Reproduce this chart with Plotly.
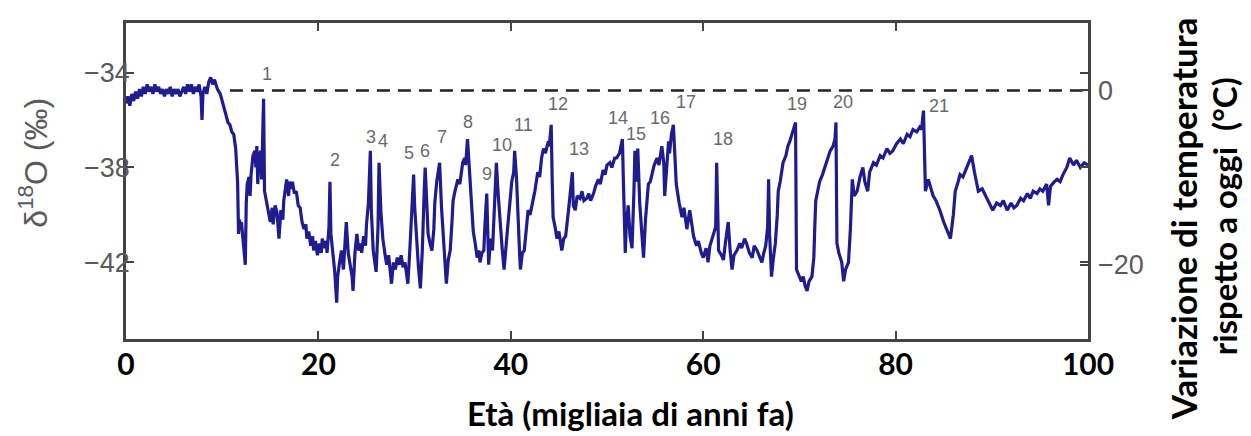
import plotly.graph_objects as go

# ---------------- data ----------------
age_ka = [
 0.0,0.2,0.4,0.6,0.8,1.0,1.2,1.4,1.6,1.8,2.0,2.2,2.4,2.6,2.8,3.0,3.2,3.4,3.6,3.8,
 4.0,4.2,4.4,4.6,4.8,5.0,5.2,5.4,5.6,5.8,6.0,6.2,6.4,6.6,6.8,7.0,7.2,7.4,7.6,7.8,
 7.9,8.0,8.2,8.4,8.6,8.8,9.0,9.2,9.5,9.8,
 10.1,10.4,10.6,10.8,11.0,11.2,11.4,11.5,11.6,11.7,11.8,11.9,12.0,12.2,12.4,12.5,12.6,12.8,12.9,13.0,
 13.2,13.4,13.5,13.6,13.7,13.8,14.0,14.1,14.2,14.3,14.4,14.6,14.8,15.0,15.2,15.3,15.5,15.7,15.9,16.1,
 16.3,16.4,16.6,16.7,16.9,17.0,17.2,17.3,17.5,17.7,17.9,18.1,18.3,18.5,18.7,18.8,19.0,19.2,19.4,19.5,
 19.7,19.9,20.1,20.3,20.4,20.6,20.8,20.9,21.1,21.2,21.3,21.5,21.7,21.9,22.0,22.2,22.4,22.6,22.8,22.9,
 23.1,23.3,23.5,23.6,23.8,24.0,24.2,24.4,24.5,24.7,24.9,25.0,25.2,25.4,25.5,25.7,25.9,26.0,26.2,26.3,
 26.5,26.7,26.9,27.1,27.3,27.6,27.8,28.0,28.2,28.4,28.6,28.8,29.0,29.2,29.3,29.5,29.7,29.9,30.0,30.2,
 30.4,30.6,30.8,31.0,31.1,31.3,31.4,31.6,31.8,32.0,32.1,32.3,32.6,32.8,33.0,33.2,33.3,33.5,33.7,33.9,
 34.0,34.2,34.5,34.7,35.0,35.2,35.3,35.5,35.6,35.8,36.0,36.1,36.3,36.5,36.7,36.8,37.0,37.2,37.3,37.5,
 37.7,37.9,38.1,38.3,38.5,38.7,38.9,39.1,39.3,39.5,39.7,39.9,40.1,40.3,40.4,40.6,40.7,40.9,41.0,41.2,
 41.4,41.6,41.8,42.0,42.3,42.5,42.8,43.0,43.2,43.4,43.6,43.9,44.0,44.2,44.3,44.4,44.6,44.8,45.0,45.3,
 45.5,45.7,46.0,46.2,46.4,46.5,46.7,46.9,47.2,47.4,47.6,47.9,48.1,48.3,48.6,48.8,49.1,49.3,49.6,49.8,
 50.0,50.3,50.5,50.8,51.0,51.3,51.6,51.7,51.9,52.0,52.2,52.4,52.6,52.8,52.9,53.0,53.2,53.4,53.6,53.8,
 54.0,54.3,54.5,54.6,54.9,55.2,55.4,55.7,55.9,56.0,56.2,56.4,56.5,56.7,56.9,57.1,57.2,57.5,57.8,58.0,
 58.3,58.6,58.8,59.0,59.3,59.5,59.8,60.0,60.3,60.5,60.7,60.9,61.1,61.3,61.4,61.5,61.6,61.9,62.1,62.3,
 62.6,62.8,63.0,63.2,63.5,63.8,64.0,64.3,64.5,64.8,65.1,65.3,65.6,65.9,66.1,66.3,66.5,66.7,66.8,66.9,
 67.1,67.3,67.5,67.7,67.8,68.0,68.3,68.6,68.8,69.0,69.3,69.5,69.6,69.7,69.9,70.2,70.4,70.6,70.8,71.0,
 71.3,71.5,71.6,71.7,71.9,72.1,72.4,72.7,72.9,73.2,73.5,73.7,73.8,73.9,74.1,74.4,74.6,74.8,75.1,75.3,
 75.5,75.7,76.0,76.3,76.6,76.8,77.1,77.3,77.7,78.0,78.4,78.7,79.1,79.4,79.7,80.1,80.5,80.8,81.2,81.5,
 81.8,82.2,82.5,82.7,82.9,83.0,83.1,83.4,83.6,83.9,84.2,84.6,85.0,85.3,85.7,86.0,86.2,86.5,86.7,87.0,
 87.4,87.7,87.9,88.2,88.6,89.0,89.5,89.8,90.1,90.5,90.9,91.2,91.6,92.0,92.3,92.6,93.0,93.3,93.7,94.0,
 94.3,94.7,95.0,95.3,95.7,95.9,96.1,96.5,96.8,97.1,97.4,97.8,98.1,98.5,98.8,99.2,99.6,100.0,
]
d18o = [
 -35.3,-35.0,-35.4,-34.9,-35.2,-34.8,-35.1,-34.7,-35.0,-34.6,-34.9,-34.5,-34.8,-34.6,-34.9,-34.5,-34.8,-34.6,-34.9,-34.7,
 -35.0,-34.7,-34.9,-34.6,-35.0,-34.7,-34.9,-34.7,-35.0,-34.8,-34.6,-34.9,-34.5,-34.8,-34.5,-34.9,-34.6,-34.8,-34.5,-35.0,
 -36.0,-34.9,-34.6,-34.9,-34.4,-34.2,-34.5,-34.3,-34.7,-34.9,
 -35.4,-35.9,-36.1,-36.2,-36.5,-36.6,-37.2,-37.9,-38.6,-40.8,-40.2,-40.6,-40.3,-41.2,-42.1,-39.5,-38.7,-38.4,-39.2,-38.3,
 -37.5,-37.3,-38.0,-37.1,-38.7,-37.6,-37.3,-38.5,-36.5,-35.1,-39.0,-39.4,-39.8,-40.3,-39.7,-40.4,-39.6,-39.9,-41.0,-39.8,
 -40.2,-39.4,-38.8,-38.5,-39.2,-38.6,-38.9,-38.6,-39.1,-39.0,-39.6,-39.7,-40.3,-40.6,-40.4,-41.0,-40.7,-41.3,-40.9,-41.5,
 -41.1,-41.7,-41.2,-41.6,-41.0,-41.4,-41.1,-41.6,-40.5,-38.6,-40.8,-41.5,-42.4,-43.7,-42.6,-42.0,-41.5,-42.3,-41.2,-40.3,
 -41.6,-42.2,-42.6,-43.2,-41.6,-40.8,-41.5,-41.2,-41.6,-40.9,-41.3,-40.4,-39.5,-37.3,-39.8,-41.5,-42.0,-42.4,-40.5,-37.8,
 -39.9,-41.0,-41.6,-42.1,-41.7,-42.9,-42.0,-42.3,-41.8,-42.1,-41.7,-42.2,-42.0,-42.6,-42.9,-41.5,-39.5,-38.3,-39.6,-41.2,
 -42.2,-43.1,-41.5,-39.0,-38.0,-39.8,-40.8,-41.2,-41.5,-40.6,-39.5,-38.6,-37.8,-39.7,-41.2,-42.3,-42.9,-41.9,-41.5,-40.2,
 -39.4,-39.0,-38.5,-38.7,-37.8,-37.6,-37.9,-36.8,-37.5,-38.7,-39.8,-40.7,-41.2,-41.8,-41.5,-42.0,-41.6,-41.5,-40.5,-39.1,
 -42.1,-41.0,-41.5,-39.5,-37.8,-39.2,-40.5,-41.4,-42.3,-41.5,-40.4,-39.5,-38.6,-38.2,-37.3,-38.5,-39.8,-41.5,-42.3,-41.6,
 -41.5,-40.5,-39.8,-40.0,-39.4,-39.0,-38.2,-38.4,-37.6,-37.2,-37.4,-36.9,-37.1,-36.2,-38.5,-40.1,-40.5,-41.0,-40.7,-41.5,
 -41.0,-40.9,-39.8,-39.0,-38.2,-39.6,-39.8,-39.2,-39.3,-39.0,-39.4,-39.3,-39.1,-39.4,-39.1,-38.8,-38.5,-38.7,-38.1,-38.3,
 -37.9,-37.8,-38.0,-37.6,-37.6,-37.4,-36.8,-38.5,-41.6,-40.5,-39.6,-40.9,-41.4,-39.0,-37.3,-38.6,-37.2,-39.5,-40.6,-41.8,
 -40.2,-38.7,-38.6,-38.4,-37.9,-37.6,-37.9,-37.1,-37.8,-39.2,-37.8,-36.9,-37.4,-36.6,-36.2,-37.8,-38.7,-39.5,-40.1,-39.7,
 -40.6,-39.8,-40.4,-40.9,-41.3,-41.1,-41.6,-41.8,-41.4,-42.0,-41.3,-41.0,-40.8,-40.5,-37.8,-40.7,-41.5,-41.7,-41.9,-41.2,
 -40.3,-41.5,-42.3,-41.7,-41.5,-41.2,-41.4,-41.0,-41.2,-41.6,-41.8,-41.3,-41.5,-41.8,-42.0,-41.6,-41.3,-40.5,-38.5,-40.8,
 -42.6,-41.8,-41.2,-40.0,-39.0,-38.6,-37.8,-37.5,-37.1,-36.9,-36.5,-36.3,-36.1,-42.3,-42.5,-42.8,-42.6,-43.0,-43.2,-42.8,
 -42.6,-41.8,-40.5,-39.4,-39.0,-38.6,-38.3,-37.9,-37.7,-37.3,-37.1,-36.8,-36.1,-41.2,-41.6,-42.0,-42.8,-42.3,-42.0,-40.6,
 -38.5,-39.2,-39.0,-38.4,-38.0,-38.6,-39.0,-38.2,-37.8,-37.9,-37.5,-37.6,-37.2,-37.4,-37.3,-37.0,-36.8,-37.0,-36.6,-36.7,
 -36.4,-36.5,-36.3,-36.4,-35.6,-37.5,-39.0,-38.5,-38.8,-39.2,-39.4,-39.8,-40.3,-40.6,-41.0,-40.0,-39.0,-38.6,-38.3,-38.4,
 -38.0,-37.7,-37.5,-38.2,-39.0,-38.9,-39.3,-39.5,-39.8,-39.5,-39.6,-39.4,-39.8,-39.5,-39.7,-39.6,-39.3,-39.4,-39.1,-39.3,
 -39.0,-39.1,-38.9,-39.0,-38.7,-39.6,-38.8,-38.6,-38.5,-38.6,-38.3,-38.0,-37.6,-37.9,-37.7,-38.0,-37.8,-37.9,
]

event_labels = [str(i) for i in range(1, 22)]
event_x = [14.66, 21.7, 25.5, 26.7, 29.4, 31.1, 32.8, 35.6, 37.5, 39.1, 41.3,
           44.9, 47.1, 51.15, 53.0, 55.5, 58.2, 62.1, 69.75, 74.5, 84.5]
event_y = [-34.05, -37.67, -36.7, -36.9, -37.4, -37.3, -36.7, -36.1, -38.26, -37.05, -36.2,
           -35.34, -37.2, -35.9, -36.6, -35.9, -35.25, -36.8, -35.34, -35.25, -35.4]

ref_x = [10.8, 100]     # extent of the present-day reference (dashed) line
ref_temp = [0, 0]       # temperature anomaly = 0

x_ticks = [0, 20, 40, 60, 80, 100]
y_ticks = [-34, -38, -42]
t_ticks = [0, -20]

# ---------------- figure ----------------
GRAY = "#5a5a5a"
AX = "#444444"

fig = go.Figure()
fig.add_trace(go.Scatter(x=age_ka, y=d18o, mode="lines",
                         line=dict(color="#1e1c8e", width=3.2),
                         hoverinfo="skip"))
fig.add_trace(go.Scatter(x=ref_x, y=ref_temp, yaxis="y2", mode="lines",
                         line=dict(color="#222222", width=2.5, dash="13px,8px"),
                         hoverinfo="skip"))

for t, x, y in zip(event_labels, event_x, event_y):
    fig.add_annotation(x=x, y=y, xref="x", yref="y", text=t, showarrow=False,
                       font=dict(family="Liberation Sans", size=18, color="#6a6a6a"),
                       xanchor="center", yanchor="middle")

# plot area in page pixels: x 126..1088, y 20..339 (page has an 8px body margin)
fig.add_annotation(xref="paper", yref="paper", x=(33 - 126) / 962, y=(339 - 161) / 319,
                   text="δ<sup>18</sup>O (‰)", showarrow=False, textangle=-90,
                   font=dict(family="Liberation Sans", size=32, color=GRAY),
                   xanchor="center", yanchor="middle")
fig.add_annotation(xref="paper", yref="paper", x=0.524, y=-0.235,
                   text="Età (migliaia di anni fa)", showarrow=False,
                   font=dict(family="Lato", size=33, color="black", weight="bold"),
                   xanchor="center", yanchor="middle")
fig.add_annotation(xref="paper", yref="paper", x=(1183 - 126) / 962, y=(339 - 218) / 319,
                   text="Variazione di temperatura",
                   showarrow=False, textangle=-90,
                   font=dict(family="Lato", size=35, color="black", weight="bold"),
                   xanchor="center", yanchor="middle")
fig.add_annotation(xref="paper", yref="paper", x=(1224 - 126) / 962, y=(339 - 215) / 319,
                   text="rispetto a oggi  (°C)",
                   showarrow=False, textangle=-90,
                   font=dict(family="Lato", size=33, color="black", weight="bold"),
                   xanchor="center", yanchor="middle")

fig.update_layout(
    width=1243, height=428,
    margin=dict(l=118, r=163, t=12, b=97),
    plot_bgcolor="white", paper_bgcolor="white",
    showlegend=False,
    xaxis=dict(range=[0, 100], tickvals=x_ticks, ticks="inside", ticklen=8,
               tickwidth=1.5, tickcolor=AX, showline=True, linecolor=AX,
               linewidth=2.5, mirror="ticks", showgrid=False, zeroline=False,
               ticklabelstandoff=-3,
               tickfont=dict(family="Lato", size=30, color="black", weight="bold")),
    yaxis=dict(range=[-45.23, -31.91], tickvals=y_ticks, ticks="inside", ticklen=8,
               tickwidth=1.5, tickcolor=AX, showline=True, linecolor=AX,
               linewidth=2.5, mirror="ticks", showgrid=False, zeroline=False,
               ticklabelstandoff=-12,
               tickfont=dict(family="Liberation Sans", size=27, color=GRAY)),
    yaxis2=dict(range=[-28.52, 7.73], tickvals=t_ticks, overlaying="y", side="right",
                ticks="inside", ticklen=8, tickwidth=1.5, tickcolor=AX,
                showline=False, showgrid=False, zeroline=False,
                ticklabelstandoff=9,
                tickfont=dict(family="Liberation Sans", size=27, color=GRAY)),
)

fig.write_html("out.html")
